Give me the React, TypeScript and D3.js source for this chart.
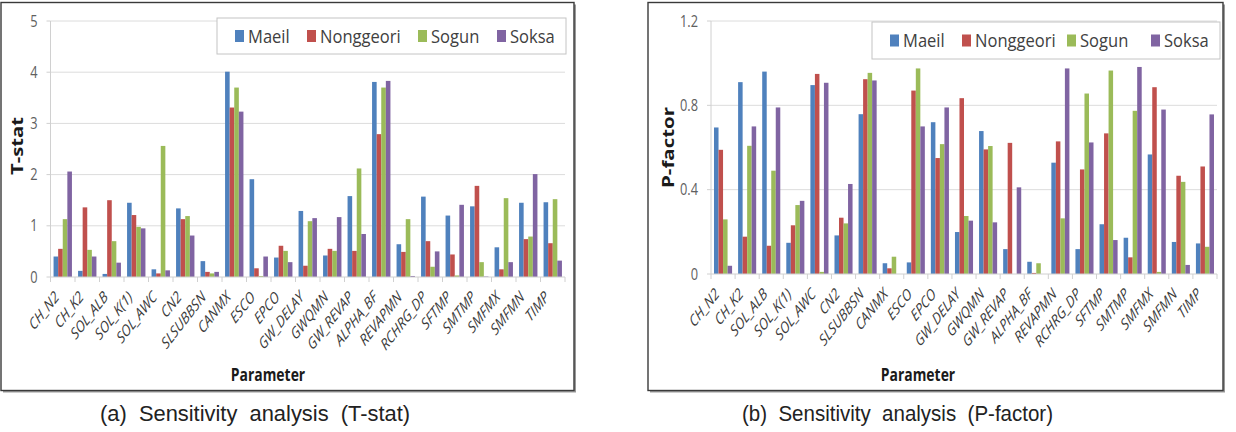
import React from 'react';
import * as d3 from 'd3';

const categories = ["CH_N2","CH_K2","SOL_ALB","SOL_K(1)","SOL_AWC","CN2","SLSUBBSN","CANMX","ESCO","EPCO","GW_DELAY","GWQMN","GW_REVAP","ALPHA_BF","REVAPMN","RCHRG_DP","SFTMP","SMTMP","SMFMX","SMFMN","TIMP"];
const seriesNames = ["Maeil","Nonggeori","Sogun","Soksa"];

const tStatMaeil = [0.40,0.12,0.06,1.45,0.15,1.34,0.31,4.01,1.91,0.38,1.29,0.42,1.58,3.81,0.64,1.57,1.20,1.38,0.58,1.45,1.46];
const tStatNonggeori = [0.55,1.36,1.50,1.21,0.07,1.13,0.10,3.31,0.17,0.61,0.22,0.55,0.51,2.79,0.49,0.70,0.44,1.78,0.15,0.74,0.66];
const tStatSogun = [1.13,0.53,0.70,0.98,2.56,1.19,0.07,3.70,0.02,0.51,1.09,0.51,2.12,3.70,1.13,0.20,0.03,0.29,1.54,0.79,1.52];
const tStatSoksa = [2.06,0.40,0.28,0.95,0.13,0.81,0.10,3.23,0.40,0.29,1.15,1.17,0.84,3.83,0.02,0.50,1.41,0.01,0.29,2.01,0.32];

const pFactorMaeil = [0.695,0.91,0.96,0.148,0.896,0.183,0.758,0.051,0.055,0.72,0.199,0.678,0.118,0.058,0.528,0.118,0.236,0.172,0.567,0.152,0.145];
const pFactorNonggeori = [0.589,0.177,0.134,0.231,0.949,0.267,0.924,0.027,0.87,0.55,0.834,0.591,0.622,0.005,0.629,0.496,0.667,0.079,0.886,0.466,0.51];
const pFactorSogun = [0.259,0.608,0.49,0.327,0.01,0.24,0.954,0.082,0.975,0.616,0.275,0.607,0,0.051,0.264,0.856,0.965,0.774,0.01,0.437,0.129];
const pFactorSoksa = [0.039,0.70,0.79,0.347,0.907,0.427,0.918,0,0.70,0.79,0.253,0.245,0.411,0,0.975,0.624,0.161,0.982,0.78,0.043,0.757];

const tStatTicks = [0,1,2,3,4,5];
const pFactorTicks = [0,0.4,0.8,1.2];

const colors = ["#4F81BD","#C0504D","#9BBB59","#8064A2"];
const FONT = "'Open Sans', 'DejaVu Sans', sans-serif";
const CAPFONT = "'Liberation Sans', Arial, sans-serif";

type ChartProps = {
  frame: {x:number;y:number;w:number;h:number};
  plot: {x0:number;x1:number;y0:number;y1:number};
  series: number[][];
  domain: [number,number];
  ticks: number[];
  fmt: (v:number)=>string;
  yTitle: string;
  yTitleX: number;
  yTitleY: number;
  yTitleLen: number;
  legendBox: {x:number;y:number;w:number;h:number};
  legendOffsets: number[];
  caption: string;
  captionX: number;
  captionW: number;
  xTitleX: number;
};

function BarChart(p: ChartProps) {
  const x = d3.scaleBand<string>().domain(categories).range([p.plot.x0, p.plot.x1]).paddingInner(0.25).paddingOuter(0.125);
  const xs = d3.scaleBand<string>().domain(seriesNames).range([0, x.bandwidth()]);
  const y = d3.scaleLinear().domain(p.domain).range([p.plot.y0, p.plot.y1]);
  const step = x.step();
  const boundaries = d3.range(categories.length + 1).map(i => p.plot.x0 + i * step);
  return (
    <g>
      <rect x={p.frame.x + 2} y={p.frame.y + 2} width={p.frame.w} height={p.frame.h} fill="#9a9a9a" />
      <rect x={p.frame.x} y={p.frame.y} width={p.frame.w} height={p.frame.h} fill="#fff" stroke="#3a3a3a" strokeWidth={1.4} />
      {p.ticks.filter(t => t !== 0).map(t => (
        <line key={'g'+t} x1={p.plot.x0} x2={p.plot.x1} y1={y(t)} y2={y(t)} stroke="#dcdcdc" strokeWidth={1} />
      ))}
      <line x1={p.plot.x0} x2={p.plot.x0} y1={y(p.domain[0])} y2={y(p.domain[1])} stroke="#d0d0d0" />
      {p.ticks.map(t => (
        <line key={'yt'+t} x1={p.plot.x0 - 4} x2={p.plot.x0} y1={y(t)} y2={y(t)} stroke="#d0d0d0" />
      ))}
      {p.series.map((vals, si) => vals.map((v, ci) => (
        <rect key={si+'-'+ci}
          x={(x(categories[ci]) as number) + (xs(seriesNames[si]) as number)}
          y={y(v)} width={xs.bandwidth()} height={Math.max(0, y(0) - y(v))}
          fill={colors[si]} />
      )))}
      <line x1={p.plot.x0} x2={p.plot.x1} y1={y(0)} y2={y(0)} stroke="#d0d0d0" />
      {boundaries.map((bx, i) => (
        <line key={'xt'+i} x1={bx} x2={bx} y1={y(0)} y2={y(0) + 5} stroke="#d0d0d0" />
      ))}
      {p.ticks.map(t => (
        <text key={'yl'+t} transform={`translate(${p.plot.x0 - 13},${y(t) + 5.5}) scale(0.8,1)`}
          textAnchor="end" fontFamily={FONT} fontSize={16} fill="#606060">{p.fmt(t)}</text>
      ))}
      {categories.map(c => {
        const cx = (x(c) as number) + x.bandwidth() / 2;
        return (
          <text key={'cl'+c} transform={`translate(${cx - 3},${y(0) + 21}) scale(0.78,1) rotate(-45)`}
            textAnchor="end" fontFamily={FONT} fontStyle="italic" fontSize={16} fill="#3a3a3a">{c}</text>
        );
      })}
      <text transform={`translate(${p.yTitleX},${p.yTitleY}) rotate(-90) scale(1,0.8)`} textAnchor="middle"
        fontFamily={FONT} fontWeight="bold" fontSize={21} fill="#1a1a1a"
        textLength={p.yTitleLen} lengthAdjust="spacingAndGlyphs">{p.yTitle}</text>
      <text transform={`translate(${p.xTitleX},381) scale(0.82,1)`} textAnchor="middle"
        fontFamily={FONT} fontWeight="bold" fontSize={17} fill="#1a1a1a">Parameter</text>
      <rect x={p.legendBox.x} y={p.legendBox.y} width={p.legendBox.w} height={p.legendBox.h} fill="#fff" stroke="#c4c4c4" strokeWidth={1} />
      {seriesNames.map((s, i) => {
        const sx = p.legendBox.x + p.legendOffsets[i];
        const cy = p.legendBox.y + p.legendBox.h / 2;
        return (
          <g key={'lg'+s}>
            <rect x={sx} y={cy - 6} width={9} height={12} fill={colors[i]} />
            <text transform={`translate(${sx + 13},${cy + 6.5}) scale(0.92,1)`} fontFamily={FONT} fontSize={18} fill="#404040">{s}</text>
          </g>
        );
      })}
      <text x={p.captionX} y={421} textAnchor="middle" fontFamily={CAPFONT} fontSize={21.5} fill="#222"
        textLength={p.captionW} lengthAdjust="spacingAndGlyphs" style={{whiteSpace: 'pre'}}>{p.caption}</text>
    </g>
  );
}

export default function App() {
  return (
    <svg width={1236} height={432} style={{position: 'absolute', left: 0, top: 0, background: '#fff'}}>
      <rect width={1236} height={432} fill="#fff" />
      <BarChart
        frame={{x: 1, y: 2.5, w: 573, h: 388}}
        plot={{x0: 50.5, x1: 565, y0: 277, y1: 21}}
        series={[tStatMaeil, tStatNonggeori, tStatSogun, tStatSoksa]}
        domain={[0, 5]}
        ticks={tStatTicks}
        fmt={d3.format('d')}
        yTitle="T-stat"
        yTitleX={23}
        yTitleY={146}
        yTitleLen={58}
        legendBox={{x: 217, y: 18, w: 349, h: 36}}
        legendOffsets={[18, 90, 201, 280]}
        caption="(a)  Sensitivity  analysis  (T-stat)"
        captionX={255}
        captionW={310}
        xTitleX={268}
      />
      <BarChart
        frame={{x: 648, y: 2.5, w: 575, h: 388}}
        plot={{x0: 711, x1: 1217, y0: 274, y1: 21}}
        series={[pFactorMaeil, pFactorNonggeori, pFactorSogun, pFactorSoksa]}
        domain={[0, 1.2]}
        ticks={pFactorTicks}
        fmt={(v: number) => v === 0 ? '0' : d3.format('.1f')(v)}
        yTitle="P-factor"
        yTitleX={674}
        yTitleY={147.5}
        yTitleLen={81}
        legendBox={{x: 872, y: 22, w: 348, h: 37}}
        legendOffsets={[18, 90, 195, 279]}
        caption="(b)  Sensitivity  analysis  (P-factor)"
        captionX={897.5}
        captionW={311}
        xTitleX={918}
      />
    </svg>
  );
}
